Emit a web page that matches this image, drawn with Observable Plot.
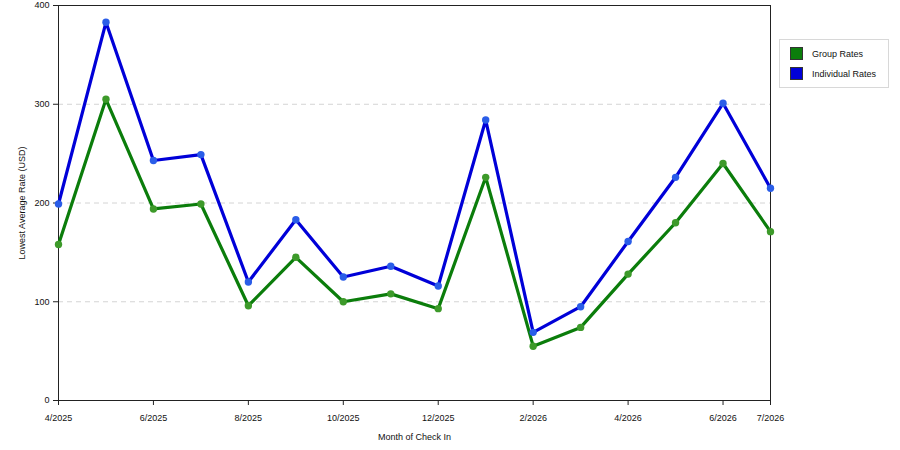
<!DOCTYPE html>
<html>
<head>
<meta charset="utf-8">
<script src="https://cdn.jsdelivr.net/npm/d3@7"></script>
<script src="https://cdn.jsdelivr.net/npm/@observablehq/plot@0.6"></script>
<style>
  html, body { margin: 0; padding: 0; background: #fff; }
  #wrap { position: relative; width: 900px; height: 450px; font-family: "Liberation Sans", Arial, sans-serif; }
  #legend { position: absolute; left: 779px; top: 39px; width: 110px; height: 49px; border: 1px solid #d8d8d8; box-sizing: border-box; background: #fff; font-size: 9px; color: #111; }
  .item { position: absolute; left: 10px; height: 13px; line-height: 14px; }
  .sw { display: inline-block; width: 13px; height: 13px; vertical-align: top; margin-right: 9px; box-sizing: border-box; border: 1px solid #333; }
</style>
</head>
<body>
<div id="wrap"><div id="chart"></div><div id="legend"></div></div>
<script>
const monthLabels = ["4/2025","5/2025","6/2025","7/2025","8/2025","9/2025","10/2025","11/2025","12/2025","1/2026","2/2026","3/2026","4/2026","5/2026","6/2026","7/2026"];
const groupRates = [158, 305, 194, 199, 96, 145, 100, 108, 93, 226, 55, 74, 128, 180, 240, 171];
const individualRates = [199, 383, 243, 249, 120, 183, 125, 136, 116, 284, 69, 95, 161, 226, 301, 215];
const tickMonths = ["4/2025","6/2025","8/2025","10/2025","12/2025","2/2026","4/2026","6/2026","7/2026"];
const yTicks = [0, 100, 200, 300, 400];
const gridValues = [100, 200, 300];
const seriesNames = ["Group Rates", "Individual Rates"];
const seriesColors = ["#0b7d0b", "#0000d8"];
const dotColors = ["#3d9a2a", "#2a5de8"];

const rows = [];
monthLabels.forEach((m, i) => {
  rows.push({i, month: m, series: seriesNames[0], value: groupRates[i]});
  rows.push({i, month: m, series: seriesNames[1], value: individualRates[i]});
});
const tickIdx = tickMonths.map(t => monthLabels.indexOf(t));

const chart = Plot.plot({
  width: 900,
  height: 450,
  marginLeft: 58,
  marginRight: 130,
  marginTop: 5,
  marginBottom: 50,
  style: {fontFamily: '"Liberation Sans", Arial, sans-serif', fontSize: "9px", color: "#111", background: "#fff"},
  x: {type: "linear", domain: [0, monthLabels.length - 1]},
  y: {domain: [0, 400]},
  color: {domain: seriesNames, range: seriesColors},
  marks: [
    Plot.ruleY(gridValues, {stroke: "#d4d4d4", strokeDasharray: "5,4", strokeWidth: 1}),
    Plot.frame({stroke: "#222", strokeWidth: 1}),
    Plot.axisX({ticks: tickIdx, tickFormat: i => monthLabels[i], tickSize: 5, tickPadding: 9, stroke: "#222", label: "Month of Check In", labelAnchor: "center", labelArrow: "none", labelOffset: 39}),
    Plot.axisY({ticks: yTicks, tickSize: 5, stroke: "#222", label: "Lowest Average Rate (USD)", labelAnchor: "center", labelArrow: "none", labelOffset: 40}),
    Plot.line(rows, {x: "i", y: "value", z: "series", stroke: "series", strokeWidth: 3.2, strokeLinejoin: "miter"}),
    Plot.dot(rows, {x: "i", y: "value", r: 3.7, fill: d => dotColors[seriesNames.indexOf(d.series)], stroke: "none", clip: false})
  ]
});
document.getElementById("chart").appendChild(chart);

const legend = document.getElementById("legend");
seriesNames.forEach((name, k) => {
  const it = document.createElement("div");
  it.className = "item";
  it.style.top = (7 + k * 20) + "px";
  it.innerHTML = `<span class="sw" style="background:${seriesColors[k]}"></span>${name}`;
  legend.appendChild(it);
});
</script>
</body>
</html>
